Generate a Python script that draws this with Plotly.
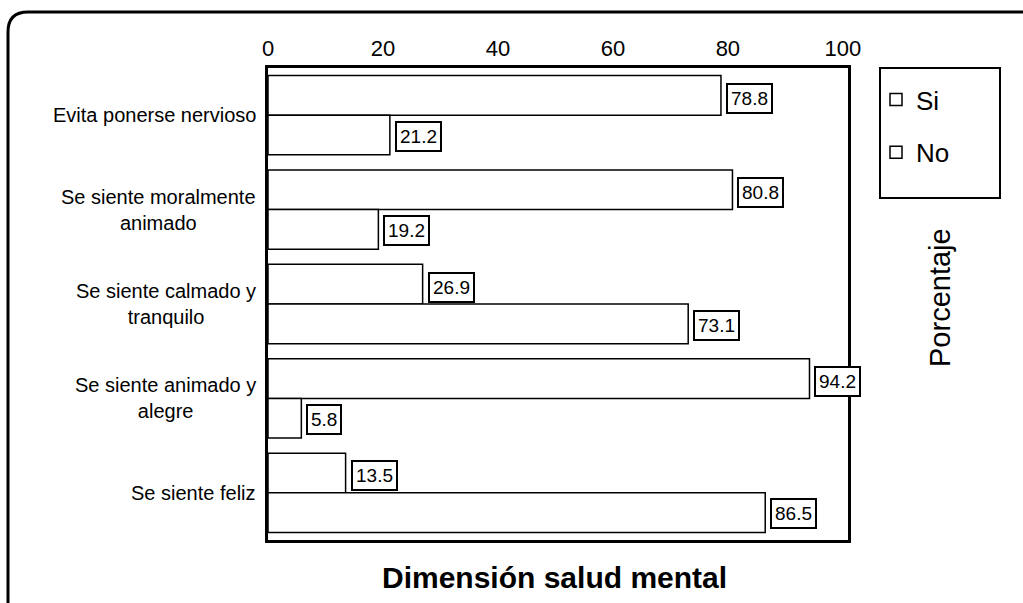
import plotly.graph_objects as go

# Survey items (top to bottom) and percentage of answers
categorias = [
    "Evita ponerse nervioso",
    "Se siente moralmente<br>animado",
    "Se siente calmado y<br>tranquilo",
    "Se siente animado y<br>alegre",
    "Se siente feliz",
]
si = [78.8, 80.8, 26.9, 94.2, 13.5]
no = [21.2, 19.2, 73.1, 5.8, 86.5]
tick_valores = [0, 20, 40, 60, 80, 100]

W, H = 1023, 603
L, R, T, B = 268, 848, 68, 540  # plot-area edges in pixels

def px_x(px):
    return (px - L) / (R - L)

def px_y(py):
    return (B - py) / (B - T)

FONT = "Liberation Sans, Arial, sans-serif"
bar_line = dict(color="black", width=1.5)

fig = go.Figure()
fig.add_trace(go.Bar(y=categorias, x=si, name="Si", orientation="h",
                     marker=dict(color="white", line=bar_line),
                     legendgroup="si"))
fig.add_trace(go.Bar(y=categorias, x=no, name="No", orientation="h",
                     marker=dict(color="white", line=bar_line),
                     legendgroup="no"))

annotations = []
# boxed value labels at the end of each bar
for cat, v_si, v_no in zip(categorias, si, no):
    for val, shift in ((v_si, 19), (v_no, -19)):
        annotations.append(dict(
            x=val, y=cat, xref="x", yref="y", text=f"{val:.1f}",
            showarrow=False, xanchor="left", yanchor="middle",
            xshift=5, yshift=shift - 2,
            font=dict(family=FONT, size=19, color="black"),
            bgcolor="white", bordercolor="black", borderwidth=2, borderpad=3,
        ))
# category labels (right edge aligned, lines centred)
for cat in categorias:
    annotations.append(dict(
        x=px_x(258), y=cat, xref="paper", yref="y", text=cat,
        showarrow=False, xanchor="right", yanchor="middle", align="center",
        font=dict(family=FONT, size=20, color="black"),
    ))
# side label and bottom title
annotations.append(dict(
    x=px_x(940), y=px_y(298), xref="paper", yref="paper", text="Porcentaje",
    showarrow=False, textangle=-90, xanchor="center", yanchor="middle",
    font=dict(family=FONT, size=29, color="black"),
))
annotations.append(dict(
    x=px_x(554), y=px_y(577), xref="paper", yref="paper",
    text="<b>Dimensión salud mental</b>",
    showarrow=False, xanchor="center", yanchor="middle",
    font=dict(family=FONT, size=30, color="black"),
))

# outer rounded frame, running off the right and bottom edges
rad = 20
frame_path = (
    f"M {px_x(8)},{px_y(610)} L {px_x(8)},{px_y(12 + rad)} "
    f"Q {px_x(8)},{px_y(12)} {px_x(8 + rad)},{px_y(12)} L {px_x(1030)},{px_y(12)}"
)
shapes = [
    dict(type="path", path=frame_path, xref="paper", yref="paper",
         line=dict(color="black", width=3)),
    # frame around the legend
    dict(type="rect", xref="paper", yref="paper",
         x0=px_x(880), x1=px_x(1000), y0=px_y(198), y1=px_y(68),
         line=dict(color="black", width=2), fillcolor="rgba(0,0,0,0)"),
]

fig.update_layout(
    width=W, height=H,
    margin=dict(l=L, r=W - R, t=T, b=H - B, pad=0),
    paper_bgcolor="white", plot_bgcolor="white",
    barmode="group", bargap=0.16, bargroupgap=0,
    font=dict(family=FONT, color="black"),
    xaxis=dict(range=[0, 100.9], side="top", tickvals=tick_valores,
               ticks="", showgrid=False, zeroline=False,
               showline=True, linecolor="black", linewidth=2.5, mirror=True,
               tickfont=dict(family=FONT, size=22, color="black")),
    yaxis=dict(autorange="reversed", showticklabels=False, ticks="",
               showgrid=False, zeroline=False,
               showline=True, linecolor="black", linewidth=2.5, mirror=True),
    showlegend=True,
    legend=dict(x=px_x(876), y=px_y(76), xanchor="left", yanchor="top",
                borderwidth=0, bgcolor="rgba(0,0,0,0)",
                font=dict(family=FONT, size=26, color="black"),
                itemwidth=30, tracegroupgap=16, traceorder="grouped"),
    annotations=annotations,
    shapes=shapes,
)

fig.write_html("out.html")
